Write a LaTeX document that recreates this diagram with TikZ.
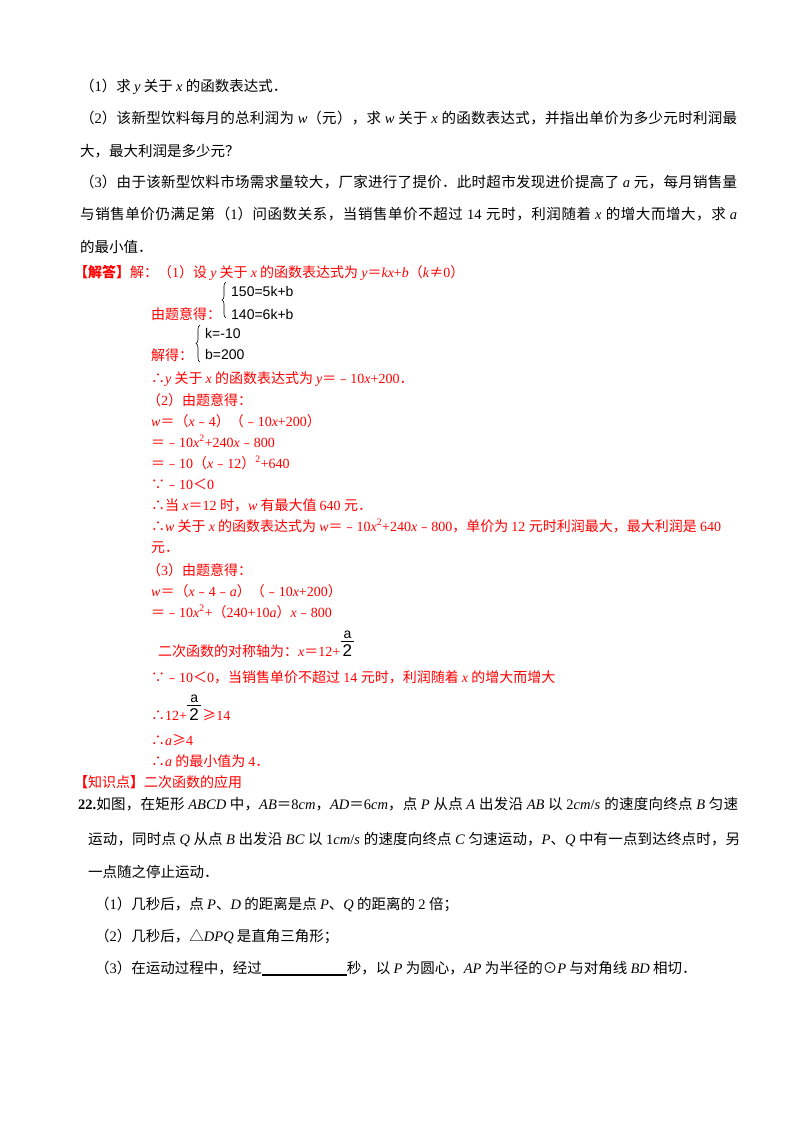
\documentclass[tikz,border=0pt]{standalone}
\usepackage{fontspec}
\setmainfont{Liberation Serif}
\setsansfont{Liberation Sans}
\newfontfamily\cjkf{Noto Sans CJK SC}
\usetikzlibrary{positioning,decorations.pathreplacing}
\definecolor{ansred}{RGB}{255,0,0}
% switch fonts between CJK and Latin runs
\newXeTeXintercharclass\cjkcls
\newcount\cjkc
\def\setcls#1#2{\cjkc=#1 \loop\XeTeXcharclass\cjkc=\cjkcls \advance\cjkc by 1 \ifnum\cjkc<#2 \repeat}
\setcls{"3000}{"3040}
\setcls{"4E00}{"A000}
\setcls{"FE30}{"FE70}
\setcls{"FF00}{"FFF0}
\XeTeXcharclass"2234=\cjkcls \XeTeXcharclass"2235=\cjkcls
\XeTeXcharclass"2260=\cjkcls \XeTeXcharclass"2265=\cjkcls
\XeTeXcharclass"2299=\cjkcls \XeTeXcharclass"25B3=\cjkcls
\XeTeXinterchartoks 0 \cjkcls = {\cjkf}
\XeTeXinterchartoks 4095 \cjkcls = {\cjkf}
\XeTeXinterchartoks \cjkcls 0 = {\rmfamily}
\XeTeXinterchartoks 4095 0 = {\rmfamily}
\XeTeXinterchartoks \cjkcls \cjkcls = {\hskip 0pt plus 1pt\relax}
\AtBeginDocument{\XeTeXinterchartokenstate=1 }
\newcommand\fillto[2]{\hbox to #1{#2}}
\newcommand\plainsf[1]{\XeTeXinterchartokenstate=0\relax\sffamily\fontsize{#1}{#1}\selectfont}
\tikzset{
  blk/.style={anchor=base west, inner sep=0pt, font=\fontsize{14.5}{17}\selectfont},
  ans/.style={anchor=base west, inner sep=0pt, text=ansred, font=\fontsize{14}{16}\selectfont},
  eqs/.style={anchor=base west, inner sep=0pt, font={\plainsf{14}}},
  fracnum/.style={inner sep=0pt, font={\plainsf{14}}},
  fracden/.style={anchor=base west, inner sep=0pt, font={\plainsf{17}}},
  sysbrace/.style={decorate, decoration={brace, amplitude=4pt}, line width=.6pt},
}
\begin{document}
\begin{tikzpicture}[x=1pt, y=-1pt]
  \useasboundingbox (0,0) rectangle (800,1132);
  \fill[white] (0,0) rectangle (800,1132);
  % question 21
  \node[blk] (q1) at (80,91) {（1）求 \textit{y} 关于 \textit{x} 的函数表达式．};
  \node[blk] (q2) at (80,123) {\fillto{657pt}{（2）该新型饮料每月的总利润为 \textit{w}（元），求 \textit{w} 关于 \textit{x} 的函数表达式，并指出单价为多少元时利润最}};
  \node[blk] (q2b) at (80,156) {大，最大利润是多少元？};
  \node[blk] (q3) at (80,187) {\fillto{657pt}{（3）由于该新型饮料市场需求量较大，厂家进行了提价．此时超市发现进价提高了 \textit{a} 元，每月销售量}};
  \node[blk] (q3b) at (80,219) {\fillto{657pt}{与销售单价仍满足第（1）问函数关系，当销售单价不超过 14 元时，利润随着 \textit{x} 的增大而增大，求 \textit{a}}};
  \node[blk] (q3c) at (80,252) {的最小值．};
  % answer
  \node[ans] (s0) at (74,277) {{\bfseries【解答】}解：（1）设 \textit{y} 关于 \textit{x} 的函数表达式为 \textit{y}＝\textit{kx}+\textit{b}（\textit{k}≠0）};
  \node[ans] (sys1) at (151,319) {由题意得：};
  \node[eqs] (e1) at (231,296) {150=5k+b};
  \node[eqs] (e2) at (231,319) {140=6k+b};
  \draw[sysbrace] (226,318) -- (226,282);
  \node[ans] (sys2) at (151,360) {解得：};
  \node[eqs] (e3) at (205,338) {k=-10};
  \node[eqs] (e4) at (205,359) {b=200};
  \draw[sysbrace] (200,362) -- (200,325);
  \node[ans] (s1) at (151,383) {∴\textit{y} 关于 \textit{x} 的函数表达式为 \textit{y}＝﹣10\textit{x}+200．};
  \node[ans] (s2) at (147,405) {（2）由题意得：};
  \node[ans] (s3) at (151,426) {\textit{w}＝（\textit{x}﹣4）（﹣10\textit{x}+200）};
  \node[ans] (s4) at (151,447) {＝﹣10\textit{x}\textsuperscript{2}+240\textit{x}﹣800};
  \node[ans] (s5) at (151,468) {＝﹣10（\textit{x}﹣12）\textsuperscript{2}+640};
  \node[ans] (s6) at (151,489) {∵﹣10＜0};
  \node[ans] (s7) at (151,510) {∴当 \textit{x}＝12 时，\textit{w} 有最大值 640 元．};
  \node[ans] (s8) at (151,531) {∴\textit{w} 关于 \textit{x} 的函数表达式为 \textit{w}＝﹣10\textit{x}\textsuperscript{2}+240\textit{x}﹣800，单价为 12 元时利润最大，最大利润是 640};
  \node[ans] (s9) at (151,552) {元．};
  \node[ans] (s10) at (147,575) {（3）由题意得：};
  \node[ans] (s11) at (151,596) {\textit{w}＝（\textit{x}﹣4﹣\textit{a}）（﹣10\textit{x}+200）};
  \node[ans] (s12) at (151,617) {＝﹣10\textit{x}\textsuperscript{2}+（240+10\textit{a}）\textit{x}﹣800};
  \node[ans] (s13) at (158,656) {二次函数的对称轴为：\textit{x}＝12+};
  \node[fracden] (f1d) at ([xshift=2pt]s13.base east) {2};
  \node[fracnum, above=5pt of f1d] (f1n) {a};
  \draw[line width=.7pt] ([xshift=-2pt,yshift=2.5pt]f1d.north west) -- ([xshift=2pt,yshift=2.5pt]f1d.north east);
  \node[ans] (s14) at (151,682) {∵﹣10＜0，当销售单价不超过 14 元时，利润随着 \textit{x} 的增大而增大};
  \node[ans] (s15) at (151,720) {∴12+};
  \node[fracden] (f2d) at ([xshift=2pt]s15.base east) {2};
  \node[fracnum, above=5pt of f2d] (f2n) {a};
  \draw[line width=.7pt] ([xshift=-2pt,yshift=2.5pt]f2d.north west) -- ([xshift=2pt,yshift=2.5pt]f2d.north east);
  \node[ans] (s16) at ([xshift=3pt]f2d.base east |- s15.base) {≥14};
  \node[ans] (s17) at (151,745) {∴\textit{a}≥4};
  \node[ans] (s18) at (151,766) {∴\textit{a} 的最小值为 4．};
  \node[ans] (s19) at (74,787) {{\bfseries【}知识点{\bfseries】}二次函数的应用};
  % question 22
  \node[blk] (p1) at (78,809) {\fillto{660pt}{{\bfseries 22.}如图，在矩形 \textit{ABCD} 中，\textit{AB}＝8\textit{cm}，\textit{AD}＝6\textit{cm}，点 \textit{P} 从点 \textit{A} 出发沿 \textit{AB} 以 2\textit{cm}/\textit{s} 的速度向终点 \textit{B} 匀速}};
  \node[blk] (p2) at (88,844) {\fillto{652pt}{运动，同时点 \textit{Q} 从点 \textit{B} 出发沿 \textit{BC} 以 1\textit{cm}/\textit{s} 的速度向终点 \textit{C} 匀速运动，\textit{P}、\textit{Q} 中有一点到达终点时，另}};
  \node[blk] (p3) at (88,877) {一点随之停止运动．};
  \node[blk] (p4) at (95,909) {（1）几秒后，点 \textit{P}、\textit{D} 的距离是点 \textit{P}、\textit{Q} 的距离的 2 倍；};
  \node[blk] (p5) at (95,941) {（2）几秒后，△\textit{DPQ} 是直角三角形；};
  \node[blk] (p6) at (95,973) {（3）在运动过程中，经过\rule[-2.5pt]{85pt}{1.3pt}秒，以 \textit{P} 为圆心，\textit{AP} 为半径的⊙\textit{P} 与对角线 \textit{BD} 相切．};
\end{tikzpicture}
\end{document}
